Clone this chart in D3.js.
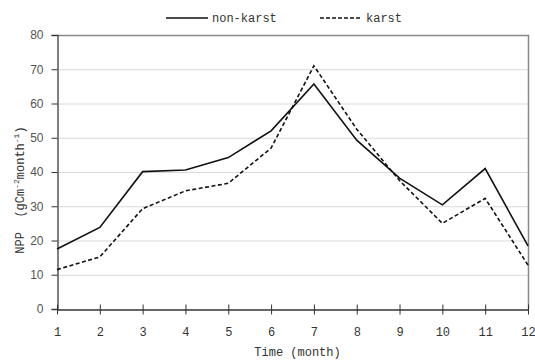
<!DOCTYPE html>
<html lang="en">
<head>
<meta charset="utf-8">
<title>NPP monthly</title>
<script src="https://d3js.org/d3.v7.min.js"></script>
<style>
  body { margin: 0; background: #fff; }
  .mono { font-family: "Liberation Mono", "DejaVu Sans Mono", monospace; }
</style>
</head>
<body>
<div id="chart"></div>
<script type="text/javascript">
// data
var months = [1, 2, 3, 4, 5, 6, 7, 8, 9, 10, 11, 12];
var nonKarst = [17.5, 23.8, 40.1, 40.6, 44.2, 52.0, 65.7, 49.3, 38.2, 30.4, 41.0, 18.4];
var karst = [11.5, 15.2, 29.3, 34.5, 36.7, 47.0, 71.0, 52.5, 37.5, 25.0, 32.3, 12.8];
var yTicks = [0, 10, 20, 30, 40, 50, 60, 70, 80];

var W = 535, H = 361;
var margin = {left: 57, right: 7, top: 35, bottom: 52};

var svg = d3.select("#chart").append("svg").attr("width", W).attr("height", H);

var x = d3.scaleLinear().domain([1, 12]).range([margin.left, W - margin.right]);
var y = d3.scaleLinear().domain([0, 80]).range([H - margin.bottom, margin.top]);

// grid lines
svg.append("g").selectAll("line").data(yTicks.slice(1, -1)).join("line")
  .attr("x1", x(1)).attr("x2", x(12))
  .attr("y1", d => y(d) + 0.5).attr("y2", d => y(d) + 0.5)
  .attr("stroke", "#d9d9d9").attr("stroke-width", 1);

// plot border top/right
svg.append("path")
  .attr("d", "M" + x(1) + "," + (y(80) + 0.5) + "H" + (x(12) + 0.5) + "V" + y(0))
  .attr("fill", "none").attr("stroke", "#888").attr("stroke-width", 1.5);

// y axis
var yAxis = svg.append("g").attr("transform", "translate(" + (x(1) + 0.5) + ",0)")
  .call(d3.axisLeft(y).tickValues(yTicks).tickSize(6).tickPadding(8));
yAxis.select(".domain").attr("stroke", "#555").attr("stroke-width", 1.5);
yAxis.selectAll(".tick line").attr("stroke", "#333");
yAxis.selectAll("text").attr("font-family", "Liberation Sans, Arial, sans-serif")
  .attr("font-size", 12).attr("fill", "#555");

// x axis, ticks cross the line
var xAxis = svg.append("g").attr("transform", "translate(0," + (y(0) + 0.5) + ")")
  .call(d3.axisBottom(x).tickValues(months).tickSizeInner(6).tickSizeOuter(0).tickPadding(12));
xAxis.select(".domain").attr("stroke", "#333").attr("stroke-width", 1.5);
xAxis.selectAll(".tick line").attr("y1", -5).attr("y2", 5).attr("stroke", "#333");
xAxis.selectAll("text").attr("class", "mono").attr("font-size", 12).attr("fill", "#333");

// lines
var line = d3.line().x((d, i) => x(months[i])).y(d => y(d));
svg.append("path").datum(nonKarst).attr("d", line)
  .attr("fill", "none").attr("stroke", "#111").attr("stroke-width", 1.6);
svg.append("path").datum(karst).attr("d", line)
  .attr("fill", "none").attr("stroke", "#111").attr("stroke-width", 1.6)
  .attr("stroke-dasharray", "4,2.5");

// axis titles
svg.append("text").attr("class", "mono").attr("x", (x(1) + x(12)) / 2 + 5).attr("y", 356)
  .attr("text-anchor", "middle").attr("font-size", 12).attr("fill", "#333")
  .text("Time (month)");

var yl = svg.append("text").attr("class", "mono")
  .attr("transform", "translate(24,190) rotate(-90)")
  .attr("text-anchor", "middle").attr("font-size", 12).attr("fill", "#333");
yl.append("tspan").text("NPP\u00a0\u00a0(gCm");
yl.append("tspan").attr("dy", -5).attr("font-size", 8).text("-2");
yl.append("tspan").attr("dy", 5).text("month");
yl.append("tspan").attr("dy", -5).attr("font-size", 8).text("-1");
yl.append("tspan").attr("dy", 5).text(")");

// legend
var legend = [
  {name: "non-karst", x0: 166, dash: null},
  {name: "karst", x0: 320, dash: "4,2"}
];
var lg = svg.append("g").selectAll("g").data(legend).join("g")
  .attr("transform", d => "translate(" + d.x0 + ",18)");
lg.append("line").attr("x1", 0).attr("x2", 42).attr("y1", 0).attr("y2", 0)
  .attr("stroke", "#111").attr("stroke-width", 1.6)
  .attr("stroke-dasharray", d => d.dash);
lg.append("text").attr("class", "mono").attr("x", 46).attr("y", 4)
  .attr("font-size", 12).attr("fill", "#333").text(d => d.name);
</script>
</body>
</html>
